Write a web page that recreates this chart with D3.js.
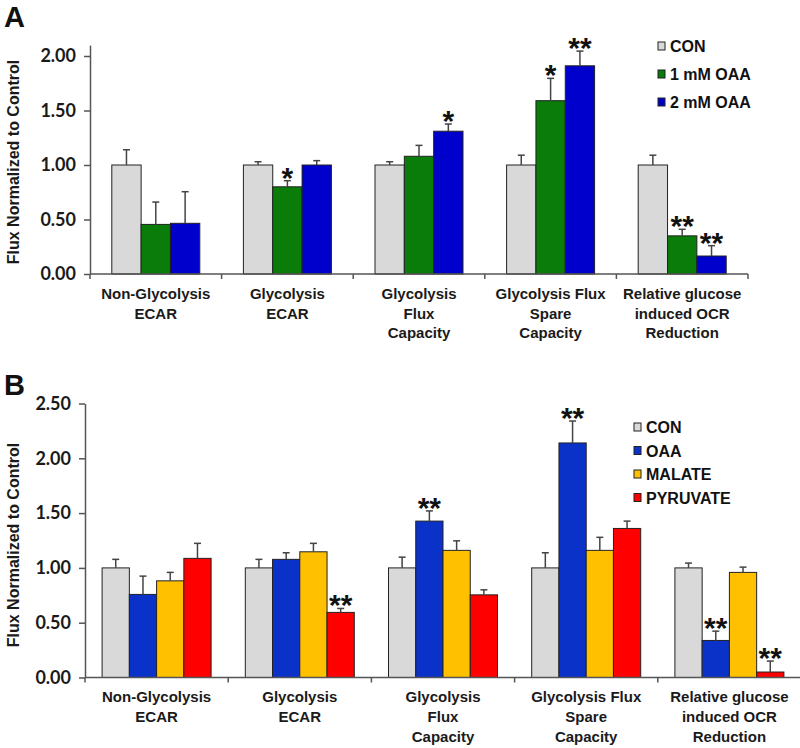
<!DOCTYPE html>
<html><head><meta charset="utf-8">
<script src="https://cdn.jsdelivr.net/npm/d3@7"></script>
<style>body{margin:0;background:#fff}</style>
</head><body>
<script>
// ---------- DATA ----------
const categories = [
  ["Non-Glycolysis","ECAR"],
  ["Glycolysis","ECAR"],
  ["Glycolysis","Flux","Capacity"],
  ["Glycolysis Flux","Spare","Capacity"],
  ["Relative glucose","induced OCR","Reduction"]
];
const yTicksA = [0, 0.5, 1.0, 1.5, 2.0];
const yTicksB = [0, 0.5, 1.0, 1.5, 2.0, 2.5];

// Panel A
const seriesA = ["CON", "1 mM OAA", "2 mM OAA"];
const conA      = [1.00, 1.00, 1.00, 1.00, 1.00];
const conAErr   = [0.14, 0.03, 0.03, 0.09, 0.09];
const oaa1A     = [0.455, 0.80, 1.08, 1.59, 0.35];
const oaa1AErr  = [0.205, 0.056, 0.10, 0.205, 0.06];
const oaa1AStar = ["", "*", "", "*", "**"];
const oaa2A     = [0.465, 1.00, 1.31, 1.91, 0.165];
const oaa2AErr  = [0.29, 0.04, 0.066, 0.135, 0.095];
const oaa2AStar = ["", "", "*", "**", "**"];

// Panel B
const seriesB = ["CON", "OAA", "MALATE", "PYRUVATE"];
const conB      = [1.00, 1.00, 1.00, 1.00, 1.00];
const conBErr   = [0.078, 0.078, 0.098, 0.138, 0.044];
const oaaB      = [0.758, 1.078, 1.427, 2.14, 0.338];
const oaaBErr   = [0.167, 0.06, 0.093, 0.20, 0.085];
const oaaBStar  = ["", "", "**", "**", "**"];
const malB      = [0.882, 1.147, 1.16, 1.16, 0.959];
const malBErr   = [0.077, 0.077, 0.087, 0.119, 0.048];
const pyrB      = [1.087, 0.594, 0.754, 1.36, 0.05];
const pyrBErr   = [0.137, 0.036, 0.046, 0.067, 0.10];
const pyrBStar  = ["", "**", "", "", "**"];

// ---------- DRAW ----------
const svg = d3.select("body").append("svg").attr("width", 800).attr("height", 748);
const AX = "#555";

function panel(cfg) {
  const g = svg.append("g");
  const y = d3.scaleLinear().domain(cfg.yDomain).range(cfg.yRange);
  const x = d3.scaleBand().domain(d3.range(categories.length)).range(cfg.xRange).paddingInner(0).paddingOuter(0);
  const sub = d3.scaleBand().domain(d3.range(cfg.series.length))
      .range([x.bandwidth()/2 - cfg.groupW/2, x.bandwidth()/2 + cfg.groupW/2]);

  // y axis
  const ya = g.append("g").attr("transform", `translate(${cfg.xRange[0]},0)`)
    .call(d3.axisLeft(y).tickValues(cfg.yTicks).tickFormat(d3.format(".2f")).tickSize(6).tickSizeOuter(0).tickPadding(8));
  ya.selectAll("path,line").attr("stroke", AX).attr("stroke-width", 1.5);
  ya.selectAll("text").attr("font-family", "Lato").attr("font-weight", "bold").attr("font-size", 18).attr("fill", "#1a1a1a");

  // bars
  cfg.series.forEach((s, si) => {
    const gs = g.append("g");
    gs.selectAll("rect").data(s.values).join("rect")
      .attr("x", (d, i) => x(i) + sub(si))
      .attr("width", sub.bandwidth())
      .attr("y", d => y(d))
      .attr("height", d => y(0) - y(d))
      .attr("fill", s.color).attr("stroke", "#222").attr("stroke-width", 1);
    // error bars
    const cx = i => x(i) + sub(si) + sub.bandwidth()/2;
    gs.selectAll("line.v").data(s.values).join("line").attr("class","v")
      .attr("x1", (d,i) => cx(i)).attr("x2", (d,i) => cx(i))
      .attr("y1", d => y(d)).attr("y2", (d,i) => y(d + s.err[i]))
      .attr("stroke", "#444").attr("stroke-width", 1.5);
    gs.selectAll("line.c").data(s.values).join("line").attr("class","c")
      .attr("x1", (d,i) => cx(i) - 3.5).attr("x2", (d,i) => cx(i) + 3.5)
      .attr("y1", (d,i) => y(d + s.err[i])).attr("y2", (d,i) => y(d + s.err[i]))
      .attr("stroke", "#444").attr("stroke-width", 1.5);
    if (s.stars) {
      gs.selectAll("text").data(s.values).join("text")
        .attr("x", (d,i) => cx(i)).attr("y", (d,i) => y(d + s.err[i]) + 7)
        .attr("text-anchor", "middle")
        .attr("font-family", "Liberation Sans, Arial").attr("font-weight", "bold").attr("font-size", 30)
        .attr("fill", "#111")
        .text((d,i) => s.stars[i]);
    }
  });

  // x axis
  const y0 = y(0);
  g.append("line").attr("x1", cfg.xRange[0]).attr("x2", cfg.xRange[1]).attr("y1", y0).attr("y2", y0)
    .attr("stroke", AX).attr("stroke-width", 1.5);
  const bounds = d3.range(categories.length + 1).map(i => cfg.xRange[0] + i * x.step());
  g.selectAll("line.xt").data(bounds).join("line").attr("class","xt")
    .attr("x1", d => d).attr("x2", d => d).attr("y1", y0).attr("y2", y0 + 5)
    .attr("stroke", AX).attr("stroke-width", 1.5);

  // category labels
  categories.forEach((lines, i) => {
    const t = g.append("text").attr("text-anchor", "middle")
      .attr("font-family", "Liberation Sans, Arial").attr("font-weight", "bold").attr("font-size", 15)
      .attr("fill", "#1a1a1a");
    lines.forEach((ln, j) => {
      t.append("tspan").attr("x", x(i) + x.bandwidth()/2).attr("y", cfg.labelY + j * cfg.labelDy).text(ln);
    });
  });

  // y title
  g.append("text").attr("transform", `translate(19,${cfg.titleY}) rotate(-90)`)
    .attr("text-anchor", "middle")
    .attr("font-family", "Liberation Sans, Arial").attr("font-weight", "bold").attr("font-size", 16)
    .attr("fill", "#1a1a1a").text("Flux Normalized to Control");

  // panel letter
  g.append("text").attr("x", 4).attr("y", cfg.letterY)
    .attr("font-family", "Liberation Sans, Arial").attr("font-weight", "bold").attr("font-size", 29)
    .attr("fill", "#111").text(cfg.letter);

  // legend
  cfg.series.forEach((s, si) => {
    const cy = cfg.legY + si * cfg.legDy;
    g.append("rect").attr("x", cfg.legX).attr("y", cy - 4).attr("width", 7).attr("height", 8)
      .attr("fill", s.color).attr("stroke", "#222").attr("stroke-width", 1);
    g.append("text").attr("x", cfg.legX + 12).attr("y", cy + 6)
      .attr("font-family", "Liberation Sans, Arial").attr("font-weight", "bold").attr("font-size", 16)
      .attr("fill", "#111").text(s.name);
  });
}

panel({
  letter: "A", letterY: 27,
  yDomain: [0, 2.1], yRange: [274, 274 - 2.1 * 109], yTicks: yTicksA,
  xRange: [90, 748], groupW: 88,
  labelY: 299, labelDy: 19.5, titleY: 162,
  legX: 658, legY: 46, legDy: 28,
  series: [
    {name: seriesA[0], values: conA, err: conAErr, color: "#d9d9d9"},
    {name: seriesA[1], values: oaa1A, err: oaa1AErr, color: "#0a7c0a", stars: oaa1AStar},
    {name: seriesA[2], values: oaa2A, err: oaa2AErr, color: "#0000cc", stars: oaa2AStar}
  ]
});

panel({
  letter: "B", letterY: 395,
  yDomain: [0, 2.5], yRange: [677.5, 677.5 - 2.5 * 109.6], yTicks: yTicksB,
  xRange: [85, 801], groupW: 109,
  labelY: 702, labelDy: 20, titleY: 545,
  legX: 634, legY: 427, legDy: 23.5,
  series: [
    {name: seriesB[0], values: conB, err: conBErr, color: "#d9d9d9"},
    {name: seriesB[1], values: oaaB, err: oaaBErr, color: "#0a32c8", stars: oaaBStar},
    {name: seriesB[2], values: malB, err: malBErr, color: "#ffc000"},
    {name: seriesB[3], values: pyrB, err: pyrBErr, color: "#ff0000", stars: pyrBStar}
  ]
});
</script>
</body></html>
